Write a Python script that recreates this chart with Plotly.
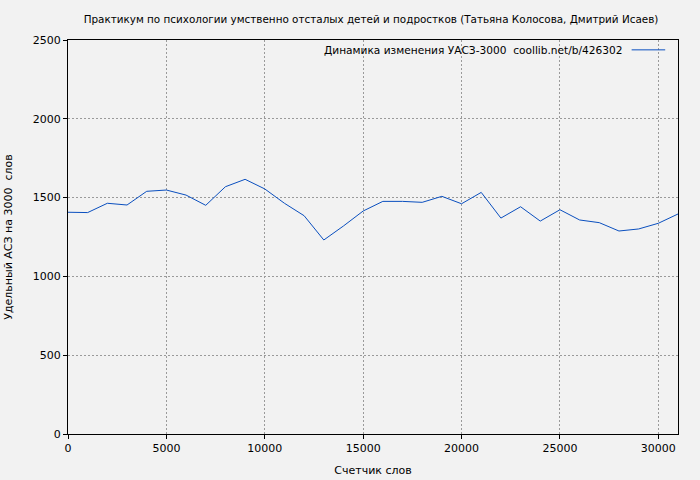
import plotly.graph_objects as go

words = [0, 1000, 2000, 3000, 4000, 5000, 6000, 7000, 8000, 9000, 10000,
         11000, 12000, 13000, 14000, 15000, 16000, 17000, 18000, 19000, 20000,
         21000, 22000, 23000, 24000, 25000, 26000, 27000, 28000, 29000, 30000, 31000]
uasz = [1407, 1405, 1464, 1453, 1540, 1548, 1516, 1451, 1569, 1616, 1555,
        1464, 1385, 1231, 1320, 1415, 1476, 1476, 1470, 1508, 1461,
        1533, 1370, 1442, 1351, 1423, 1358, 1341, 1288, 1301, 1337, 1396]

title_text = "Практикум по психологии умственно отсталых детей и подростков (Татьяна Колосова, Дмитрий Исаев)"
legend_text = "Динамика изменения УАСЗ-3000  coollib.net/b/426302"
x_title = "Счетчик слов"
y_title = "Удельный АСЗ на 3000  слов"

line_color = "#0a4fbf"
font_family = "DejaVu Sans"

fig = go.Figure()
fig.add_trace(go.Scatter(x=words, y=uasz, mode="lines",
                         line=dict(color=line_color, width=1),
                         name=legend_text, showlegend=False))

fig.update_layout(
    width=700, height=480,
    paper_bgcolor="#f2f2f2", plot_bgcolor="#f2f2f2",
    margin=dict(l=68, r=22, t=40, b=46, autoexpand=False),
    font=dict(family=font_family, size=11, color="#000000"),
    title=dict(text=title_text, x=0.53, xanchor="center", y=0.96, yanchor="middle",
               font=dict(size=10.4, family=font_family)),
)

axis_common = dict(showline=True, linecolor="#000000", linewidth=1, mirror=True,
                   ticks="outside", ticklen=4, tickcolor="#000000",
                   showgrid=True, gridcolor="#9a9a9a", griddash="2px,2px", gridwidth=1,
                   zeroline=False, automargin=False, tickformat="d",
                   tickfont=dict(size=11, family=font_family))

fig.update_xaxes(range=[0, 31000], dtick=5000, tick0=0,
                 title=dict(text=x_title, font=dict(size=11), standoff=12), **axis_common)
fig.update_yaxes(range=[0, 2500], dtick=500, tick0=0,
                 title=dict(text=y_title, font=dict(size=11), standoff=17), **axis_common)

fig.add_annotation(xref="paper", yref="paper", x=0.913, y=0.975,
                   text=legend_text, showarrow=False, xanchor="right", yanchor="middle",
                   font=dict(size=10.6, family=font_family))
fig.add_shape(type="line", xref="paper", yref="paper", x0=0.924, x1=0.979, y0=0.975, y1=0.975,
              line=dict(color=line_color, width=1))

fig.write_html("out.html", config={"displayModeBar": False},
               post_script="document.body.style.margin='0';document.body.style.background='#f2f2f2';")
